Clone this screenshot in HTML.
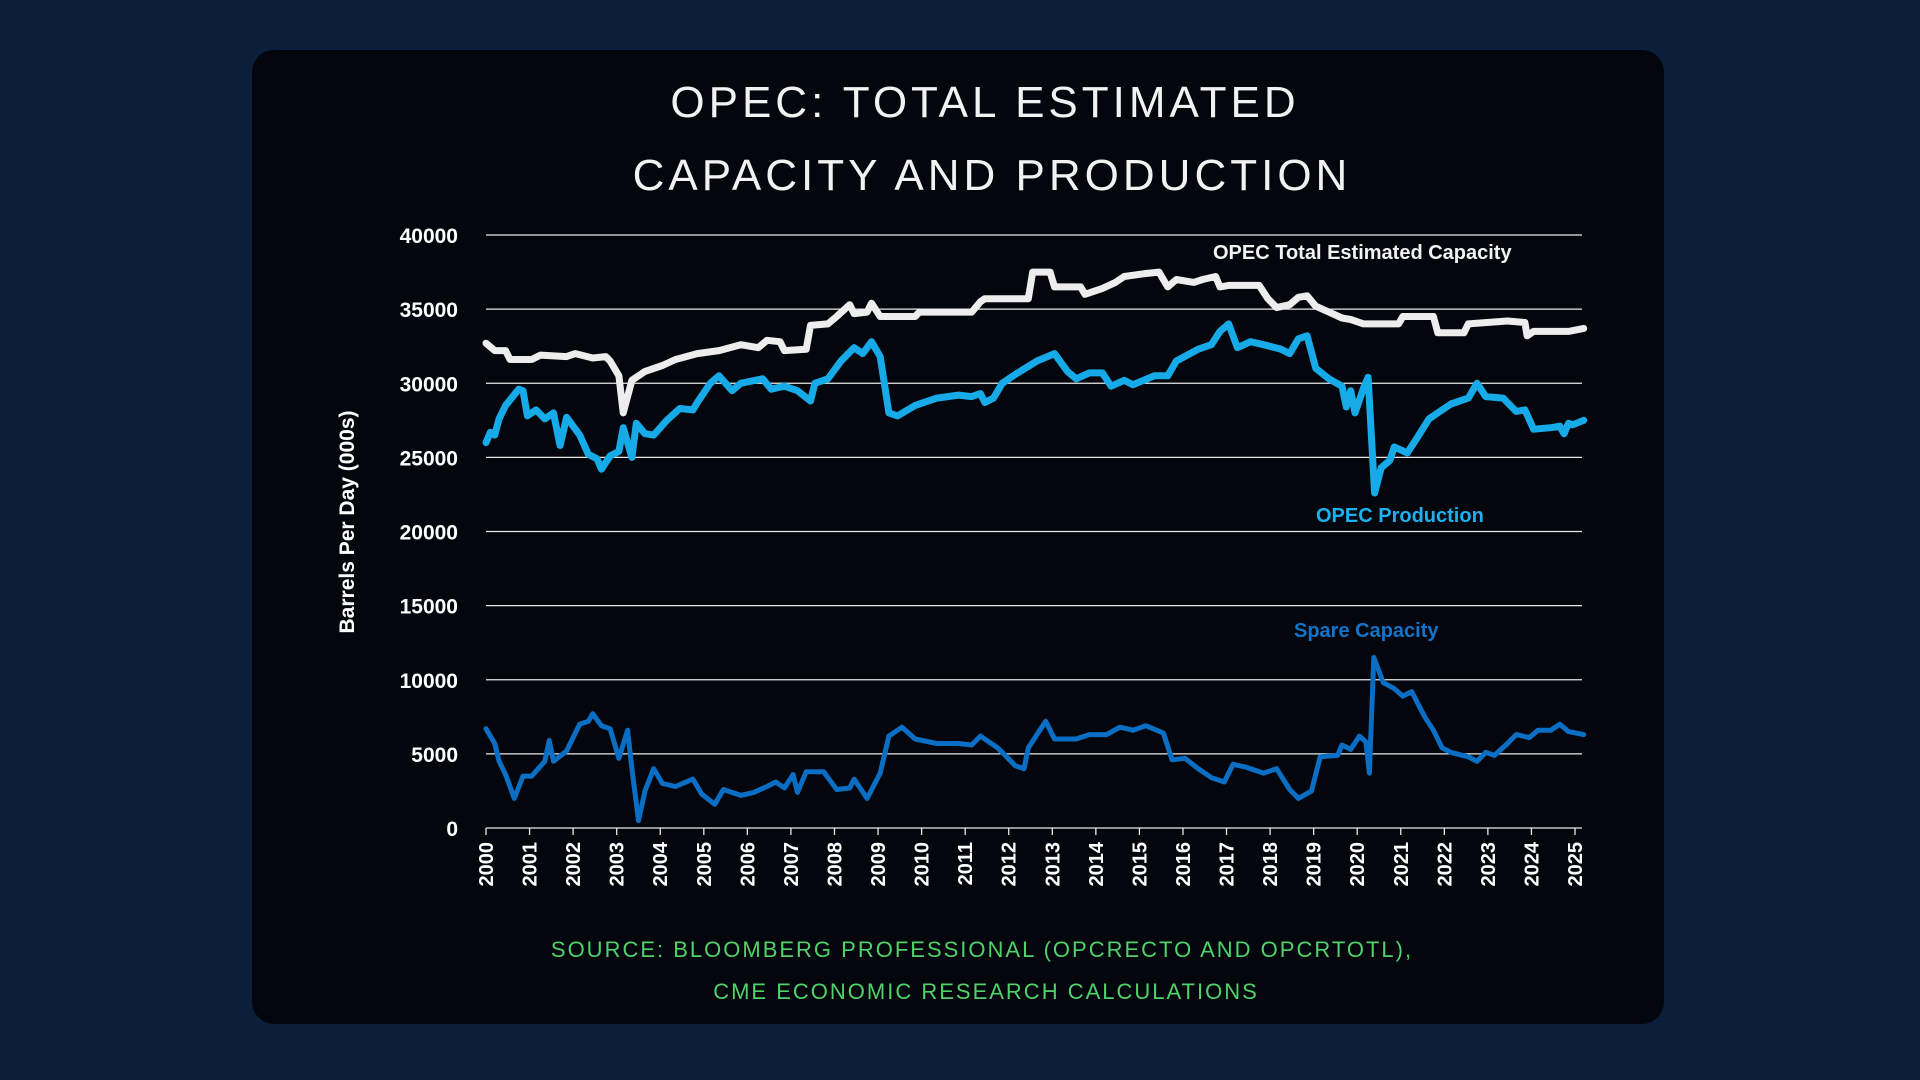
<!DOCTYPE html>
<html><head><meta charset="utf-8"><style>
html,body{margin:0;padding:0;width:1920px;height:1080px;background:#0b1f3a;overflow:hidden;font-family:"Liberation Sans",sans-serif}
#card{position:absolute;left:252px;top:50px;width:1412px;height:974px;background:#03060c;border-radius:22px}
</style></head><body>
<div id="card"></div>
<svg id="chart" width="1920" height="1080" style="position:absolute;left:0;top:0">
<text x="985" y="117" fill="#f2f2f2" font-size="44" text-anchor="middle" letter-spacing="4" font-family="Liberation Sans, sans-serif">OPEC: TOTAL ESTIMATED</text>
<text x="992" y="190" fill="#f2f2f2" font-size="44" text-anchor="middle" letter-spacing="4" font-family="Liberation Sans, sans-serif">CAPACITY AND PRODUCTION</text>
<text transform="translate(354,522) rotate(-90)" fill="#fff" font-size="21" font-weight="bold" text-anchor="middle">Barrels Per Day (000s)</text>
<text x="982" y="957" fill="#4fd26a" font-size="22" text-anchor="middle" letter-spacing="2">SOURCE: BLOOMBERG PROFESSIONAL (OPCRECTO AND OPCRTOTL),</text>
<text x="986" y="999" fill="#4fd26a" font-size="22" text-anchor="middle" letter-spacing="2">CME ECONOMIC RESEARCH CALCULATIONS</text>
<text x="1213" y="259" fill="#f2f2f2" font-size="20" font-weight="bold">OPEC Total Estimated Capacity</text>
<text x="1316" y="522" fill="#1cb2ee" font-size="20" font-weight="bold">OPEC Production</text>
<text x="1294" y="637" fill="#1274c8" font-size="20" font-weight="bold">Spare Capacity</text>
<g id="plot"></g>
</svg>
<script>
const yTicks=[0,5000,10000,15000,20000,25000,30000,35000,40000];
const years=[2000,2001,2002,2003,2004,2005,2006,2007,2008,2009,2010,2011,2012,2013,2014,2015,2016,2017,2018,2019,2020,2021,2022,2023,2024,2025];
const capDates=[2000.0,2000.2,2000.45,2000.55,2001.05,2001.25,2001.85,2002.05,2002.45,2002.75,2002.85,2003.05,2003.15,2003.35,2003.65,2004.05,2004.35,2004.85,2005.35,2005.85,2006.25,2006.45,2006.75,2006.85,2007.35,2007.45,2007.85,2008.05,2008.35,2008.45,2008.75,2008.85,2009.05,2009.85,2009.95,2011.15,2011.35,2011.45,2012.45,2012.55,2012.95,2013.05,2013.65,2013.75,2014.15,2014.45,2014.65,2015.15,2015.45,2015.65,2015.85,2016.25,2016.45,2016.75,2016.85,2017.05,2017.75,2017.95,2018.15,2018.45,2018.65,2018.85,2019.05,2019.35,2019.65,2019.85,2020.15,2020.95,2021.05,2021.75,2021.85,2022.45,2022.55,2023.45,2023.85,2023.9,2024.05,2024.85,2025.2];
const capValues=[32700,32200,32200,31600,31600,31900,31800,32000,31700,31800,31500,30500,28000,30200,30800,31200,31600,32000,32200,32600,32400,32900,32800,32200,32300,33900,34000,34500,35300,34700,34800,35400,34500,34500,34800,34800,35500,35700,35700,37500,37500,36500,36500,36000,36400,36800,37200,37400,37500,36500,37000,36800,37000,37200,36500,36600,36600,35700,35100,35300,35800,35900,35200,34800,34400,34300,34000,34000,34500,34500,33400,33400,34000,34200,34100,33200,33500,33500,33700];
const prodDates=[2000.0,2000.1,2000.2,2000.3,2000.45,2000.75,2000.85,2000.95,2001.15,2001.35,2001.55,2001.65,2001.7,2001.85,2002.15,2002.35,2002.55,2002.65,2002.85,2003.05,2003.15,2003.35,2003.45,2003.65,2003.85,2004.15,2004.45,2004.75,2004.85,2005.15,2005.35,2005.65,2005.85,2006.35,2006.55,2006.85,2007.15,2007.45,2007.55,2007.85,2008.15,2008.45,2008.65,2008.85,2009.05,2009.25,2009.45,2009.85,2010.35,2010.85,2011.15,2011.35,2011.45,2011.65,2011.85,2012.15,2012.65,2013.05,2013.35,2013.55,2013.85,2014.15,2014.35,2014.65,2014.85,2015.35,2015.65,2015.85,2016.35,2016.65,2016.85,2017.05,2017.25,2017.55,2017.85,2018.25,2018.45,2018.65,2018.85,2019.05,2019.35,2019.65,2019.75,2019.85,2019.95,2020.15,2020.25,2020.4,2020.55,2020.75,2020.85,2021.15,2021.35,2021.65,2021.85,2022.15,2022.55,2022.75,2022.95,2023.35,2023.65,2023.85,2024.05,2024.45,2024.65,2024.75,2024.85,2024.95,2025.2];
const prodValues=[26000,26700,26500,27600,28500,29600,29500,27800,28200,27600,28000,26500,25800,27700,26500,25200,24900,24200,25100,25400,27000,25000,27300,26600,26500,27500,28300,28200,28700,30000,30500,29500,30000,30300,29600,29800,29500,28800,30000,30300,31500,32400,32000,32800,31800,28000,27800,28500,29000,29200,29100,29300,28700,29000,30000,30600,31500,32000,30800,30300,30700,30700,29800,30200,29900,30500,30500,31500,32300,32600,33500,34000,32400,32800,32600,32300,32000,33000,33200,31000,30300,29800,28400,29500,28000,29700,30400,22600,24300,24800,25700,25300,26200,27600,28000,28600,29000,30000,29100,29000,28100,28200,26900,27000,27100,26600,27300,27200,27500];
const spareDates=[2000.0,2000.2,2000.3,2000.45,2000.65,2000.85,2001.05,2001.35,2001.45,2001.55,2001.85,2002.15,2002.35,2002.45,2002.65,2002.85,2003.05,2003.25,2003.35,2003.5,2003.65,2003.85,2004.05,2004.35,2004.75,2004.95,2005.25,2005.45,2005.85,2006.15,2006.45,2006.65,2006.85,2007.05,2007.15,2007.35,2007.75,2008.05,2008.35,2008.45,2008.75,2009.05,2009.25,2009.55,2009.85,2010.35,2010.85,2011.15,2011.35,2011.75,2012.15,2012.35,2012.45,2012.85,2013.05,2013.55,2013.85,2014.25,2014.55,2014.85,2015.15,2015.55,2015.75,2016.05,2016.35,2016.65,2016.95,2017.15,2017.45,2017.85,2018.15,2018.45,2018.65,2018.95,2019.15,2019.55,2019.65,2019.85,2020.05,2020.2,2020.28,2020.38,2020.6,2020.85,2021.05,2021.25,2021.55,2021.75,2021.95,2022.15,2022.55,2022.75,2022.95,2023.15,2023.45,2023.65,2023.95,2024.15,2024.45,2024.65,2024.85,2025.2];
const spareValues=[6700,5700,4500,3600,2000,3500,3500,4500,5900,4500,5200,7000,7200,7700,6900,6700,4700,6600,4000,500,2500,4000,3000,2800,3300,2300,1600,2600,2200,2400,2800,3100,2700,3600,2400,3800,3800,2600,2700,3300,2000,3700,6200,6800,6000,5700,5700,5600,6200,5400,4200,4000,5400,7200,6000,6000,6300,6300,6800,6600,6900,6400,4600,4700,4000,3400,3100,4300,4100,3700,4000,2600,2000,2500,4800,4900,5600,5300,6200,5800,3700,11500,9800,9400,8900,9200,7500,6600,5400,5100,4800,4500,5100,4900,5700,6300,6100,6600,6600,7000,6500,6300];

const X0=486,X1=1575,Y0=828,Y1=235;
const xs=t=>X0+(t-2000)/25*(X1-X0);
const ys=v=>Y0-(v/40000)*(Y0-Y1);
const NS='http://www.w3.org/2000/svg';
const plot=document.getElementById('plot');
function mk(tag,attrs){const e=document.createElementNS(NS,tag);for(const k in attrs)e.setAttribute(k,attrs[k]);plot.appendChild(e);return e;}
yTicks.forEach(v=>{
  const l=mk('line',{x1:X0,x2:1582,y1:ys(v),y2:ys(v),stroke:'#e8e8e8','stroke-width':1.3});
  
  
  const t=mk('text',{x:458,y:ys(v)+8,fill:'#fff','font-size':21,'font-weight':'bold','text-anchor':'end'});
  t.textContent=v;
  
  
});
years.forEach(y=>{
  const x=xs(y);
  const tk=mk('line',{x1:x,x2:x,y1:Y0,y2:Y0+7,stroke:'#e8e8e8','stroke-width':1.3});
  
  
  const t=mk('text',{transform:`translate(${x+7},${Y0+14}) rotate(-90)`,fill:'#fff','font-size':20,'font-weight':'bold','text-anchor':'end'});
  t.textContent=y;
  
  
});
function series(d,v,color,w,name){
  const n=Math.min(d.length,v.length);
  const pts=[];
  for(let i=0;i<n;i++)pts.push(xs(d[i]).toFixed(1)+','+ys(v[i]).toFixed(1));
  const p=mk('polyline',{points:pts.join(' '),fill:'none',stroke:color,'stroke-width':w,'stroke-linejoin':'round','stroke-linecap':'round'});
  
  
}
series(capDates,capValues,'#ededed',7,'capacity-line');
series(prodDates,prodValues,'#16abe8',7,'production-line');
series(spareDates,spareValues,'#0a6fc4',5,'spare-capacity-line');
</script>
</body></html>
